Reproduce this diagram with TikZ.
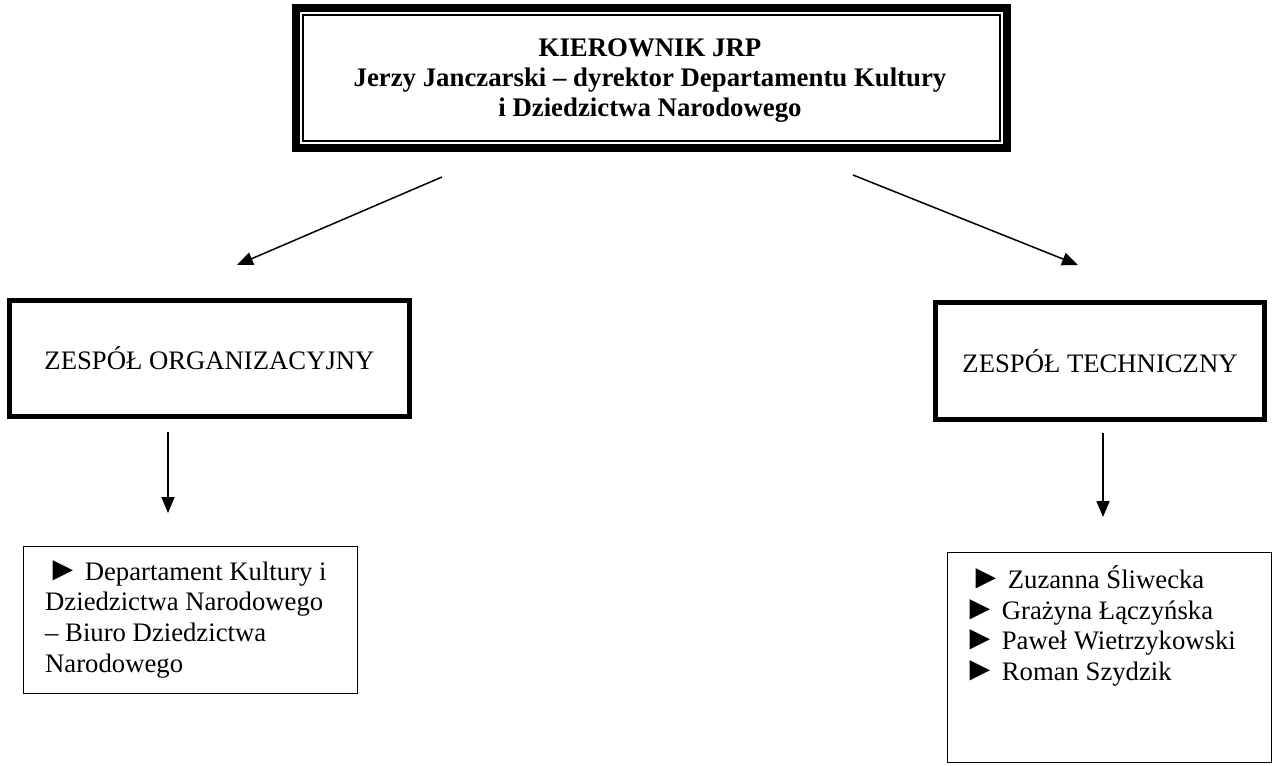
\documentclass[tikz,border=0pt]{standalone}
\usepackage{fontspec}
\setmainfont{Liberation Serif}
\usetikzlibrary{arrows.meta,calc}
\newcommand\bultri{{\fontsize{34}{30}\selectfont ►}\hspace{5pt}}
\begin{document}
\begin{tikzpicture}[x=1pt,y=-1pt,
  thickbox/.style={draw, line width=5pt, inner sep=0pt},
  listbox/.style={draw, line width=1.5pt, inner sep=0pt},
  listtext/.style={font=\fontsize{26.7}{30.7}\selectfont, align=left, inner sep=0pt},
  arr/.style={line width=1.5pt, -{Triangle[length=16pt,width=13pt]}},
  big/.style={font=\fontsize{26.7}{30.7}\selectfont},
]
\useasboundingbox (0,0) rectangle (1273,765);
\node[draw, line width=8pt, minimum width=711pt, minimum height=140pt, inner sep=0pt] (top) at (651.5,78) {};
\draw[line width=2pt] ($(top.north west)+(11,11)$) rectangle ($(top.south east)+(-11,-11)$);
\node[align=center, inner sep=0pt, font=\fontsize{26.8}{30}\selectfont\bfseries] (toptext) at (650,81)
  {KIEROWNIK JRP\\Jerzy Janczarski – dyrektor Departamentu Kultury\\i Dziedzictwa Narodowego};

\node[thickbox, minimum width=400pt, minimum height=116pt, big] (org) at (209.5,358.5) {ZESPÓŁ ORGANIZACYJNY};
\node[thickbox, minimum width=329pt, minimum height=117pt, big] (tech) at (1100,361) {ZESPÓŁ TECHNICZNY};

\node[listbox, minimum width=334pt, minimum height=147pt] (orgl) at (190.5,620) {};
\node[listbox, minimum width=324pt, minimum height=210pt] (techl) at (1109.5,657.5) {};

\node[listtext, anchor=west] (orgt) at (45,619)
  {\hspace*{1pt}\bultri Departament Kultury i\\Dziedzictwa Narodowego\\– Biuro Dziedzictwa\\Narodowego};
\node[listtext, anchor=west] (techt) at (963,626)
  {\hspace*{6pt}\bultri Zuzanna Śliwecka\\\bultri Grażyna Łączyńska\\\bultri Paweł Wietrzykowski\\\bultri Roman Szydzik};

\coordinate (l1) at (442,177);
\coordinate (l2) at (237,265);
\coordinate (r1) at (853,175);
\coordinate (r2) at (1078,265);
\coordinate (d1) at (168,432);
\coordinate (d2) at (168,513);
\coordinate (e1) at (1103,433);
\coordinate (e2) at (1103,517);
\draw[arr] (l1) -- (l2);
\draw[arr] (r1) -- (r2);
\draw[arr] (d1) -- (d2);
\draw[arr] (e1) -- (e2);
\end{tikzpicture}
\end{document}
